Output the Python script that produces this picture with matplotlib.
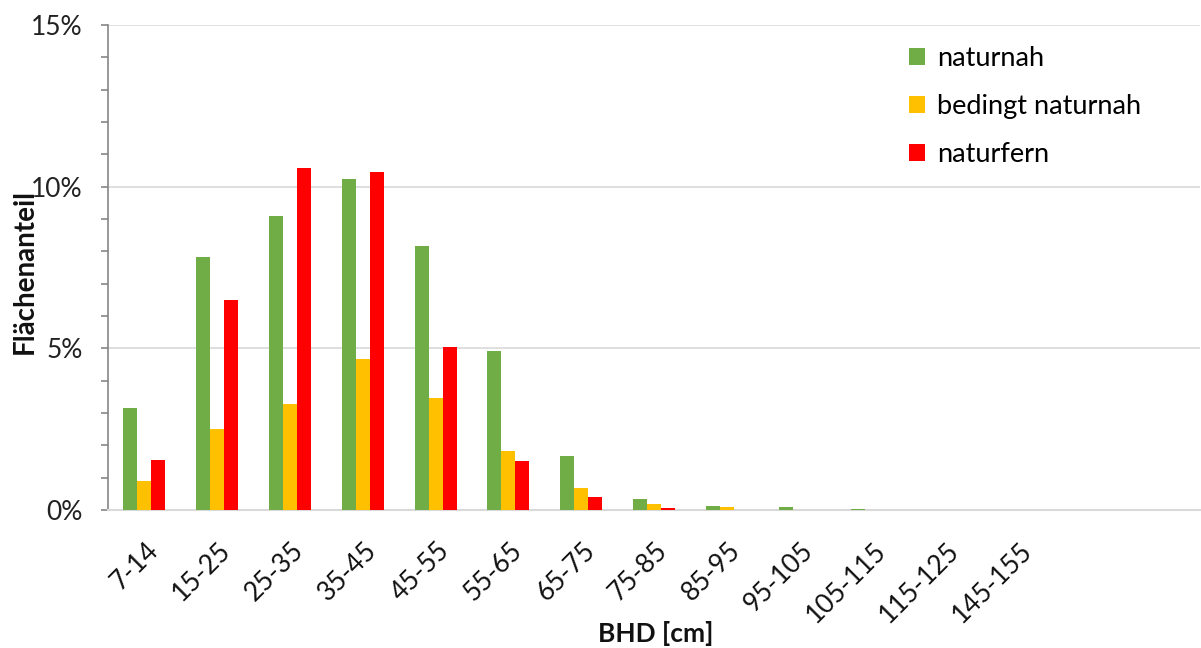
import numpy as np
import matplotlib.pyplot as plt
import matplotlib.transforms as mtransforms
from matplotlib.ticker import MultipleLocator, FuncFormatter

plt.rcParams['font.family'] = ['Lato', 'DejaVu Sans']

# Durchmesserklassen (BHD), die letzten zwei Klassen ohne Beschriftung
categories = ['7-14', '15-25', '25-35', '35-45', '45-55', '55-65', '65-75', '75-85',
              '85-95', '95-105', '105-115', '115-125', '145-155', '', '']

# Flächenanteile in %
naturnah = [3.16, 7.84, 9.09, 10.24, 8.16, 4.91, 1.68, 0.35, 0.11, 0.08, 0.02, 0.0, 0.0, 0.0, 0.0]
bedingt = [0.91, 2.52, 3.28, 4.66, 3.47, 1.81, 0.67, 0.20, 0.08, 0.0, 0.0, 0.0, 0.0, 0.0, 0.0]
naturfern = [1.54, 6.50, 10.58, 10.45, 5.04, 1.53, 0.41, 0.05, 0.0, 0.0, 0.0, 0.0, 0.0, 0.0, 0.0]

series = [('naturnah', naturnah, '#70AD47'),
          ('bedingt naturnah', bedingt, '#FFC000'),
          ('naturfern', naturfern, '#FF0000')]

fig = plt.figure(figsize=(12.01, 6.48), dpi=100)
ax = fig.add_axes([108 / 1201, 1 - 510 / 648, 1092 / 1201, 485 / 648])

x = np.arange(len(categories))
w = 1 / 5.19  # Excel gap width 219 %
for i, (name, vals, col) in enumerate(series):
    ax.bar(x + (i - 1) * w, vals, width=w, color=col, label=name, zorder=3)

ax.set_xlim(-0.5, len(categories) - 0.5)
ax.set_ylim(0, 15)

# Gitter
ax.yaxis.set_major_locator(MultipleLocator(5))
ax.yaxis.set_minor_locator(MultipleLocator(1))
ax.yaxis.set_major_formatter(FuncFormatter(lambda v, p: f'{v:.0f}%'))
ax.grid(axis='y', which='major', color='#D9D9D9', linewidth=1.2, zorder=0)

for s in ['top', 'right']:
    ax.spines[s].set_visible(False)
ax.spines['left'].set_color('#868686')
ax.spines['left'].set_linewidth(1.2)
ax.spines['bottom'].set_color('#D9D9D9')
ax.spines['bottom'].set_linewidth(1.5)

ax.tick_params(axis='y', which='both', direction='out', length=5, width=1.2,
               color='#868686', labelsize=19, pad=13, labelcolor='#222222')
ax.tick_params(axis='x', length=0, labelsize=19, pad=20, labelcolor='#111111')

ax.set_xticks(x)
ax.set_xticklabels(categories, rotation=45, ha='right', va='top', rotation_mode='anchor')
offset = mtransforms.ScaledTranslation(1 / 100, 0, fig.dpi_scale_trans)
for lbl in ax.get_xticklabels():
    lbl.set_transform(lbl.get_transform() + offset)

fig.text(656 / 1201, 1 - 633 / 648, 'BHD [cm]', ha='center', va='center',
         fontsize=19, fontweight='bold', color='#111111')
fig.text(25 / 1201, 1 - 271 / 648, 'Flächenanteil', ha='center', va='center',
         rotation=90, fontsize=20, fontweight='bold', color='#111111')

ax.legend(loc='upper left', bbox_to_anchor=(909 / 1201, 1 - 46 / 648),
          bbox_transform=fig.transFigure, frameon=False, fontsize=19.5,
          handlelength=0.6, handleheight=0.6, handletextpad=0.45,
          labelspacing=0.85, borderpad=0, borderaxespad=0)

fig.savefig('out.png', dpi=100)
